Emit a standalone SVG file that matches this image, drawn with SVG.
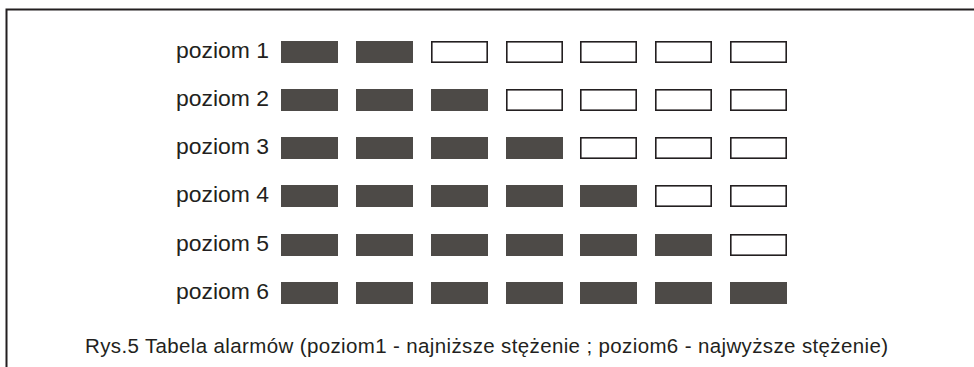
<svg xmlns="http://www.w3.org/2000/svg" width="974" height="367" viewBox="0 0 974 367">
<style>
.f{fill:#4d4a47}
.e{fill:#fff;stroke:#231f20;stroke-width:1.6}
.t{font-family:"Liberation Sans",Arial,sans-serif;font-size:20.5px;fill:#231f20}
.l{font-size:22px}
</style>
<rect width="974" height="367" fill="#fff"/>
<path d="M6.5,367 V9.5 H974" fill="none" stroke="#231f20" stroke-width="2"/>
<g id="row1">
<text class="t l" x="176" y="58" textLength="93" lengthAdjust="spacingAndGlyphs">poziom 1</text>
<rect class="f" x="281" y="41" width="57" height="22"/>
<rect class="f" x="356" y="41" width="57" height="22"/>
<rect class="e" x="431.8" y="41.8" width="55.4" height="20.4"/>
<rect class="e" x="506.8" y="41.8" width="55.4" height="20.4"/>
<rect class="e" x="580.8" y="41.8" width="55.4" height="20.4"/>
<rect class="e" x="655.8" y="41.8" width="55.4" height="20.4"/>
<rect class="e" x="730.8" y="41.8" width="55.4" height="20.4"/>
</g>
<g id="row2">
<text class="t l" x="176" y="106" textLength="93" lengthAdjust="spacingAndGlyphs">poziom 2</text>
<rect class="f" x="281" y="89" width="57" height="22"/>
<rect class="f" x="356" y="89" width="57" height="22"/>
<rect class="f" x="431" y="89" width="57" height="22"/>
<rect class="e" x="506.8" y="89.8" width="55.4" height="20.4"/>
<rect class="e" x="580.8" y="89.8" width="55.4" height="20.4"/>
<rect class="e" x="655.8" y="89.8" width="55.4" height="20.4"/>
<rect class="e" x="730.8" y="89.8" width="55.4" height="20.4"/>
</g>
<g id="row3">
<text class="t l" x="176" y="154" textLength="93" lengthAdjust="spacingAndGlyphs">poziom 3</text>
<rect class="f" x="281" y="137" width="57" height="22"/>
<rect class="f" x="356" y="137" width="57" height="22"/>
<rect class="f" x="431" y="137" width="57" height="22"/>
<rect class="f" x="506" y="137" width="57" height="22"/>
<rect class="e" x="580.8" y="137.8" width="55.4" height="20.4"/>
<rect class="e" x="655.8" y="137.8" width="55.4" height="20.4"/>
<rect class="e" x="730.8" y="137.8" width="55.4" height="20.4"/>
</g>
<g id="row4">
<text class="t l" x="176" y="202" textLength="93" lengthAdjust="spacingAndGlyphs">poziom 4</text>
<rect class="f" x="281" y="185" width="57" height="22"/>
<rect class="f" x="356" y="185" width="57" height="22"/>
<rect class="f" x="431" y="185" width="57" height="22"/>
<rect class="f" x="506" y="185" width="57" height="22"/>
<rect class="f" x="580" y="185" width="57" height="22"/>
<rect class="e" x="655.8" y="185.8" width="55.4" height="20.4"/>
<rect class="e" x="730.8" y="185.8" width="55.4" height="20.4"/>
</g>
<g id="row5">
<text class="t l" x="176" y="251" textLength="93" lengthAdjust="spacingAndGlyphs">poziom 5</text>
<rect class="f" x="281" y="234" width="57" height="22"/>
<rect class="f" x="356" y="234" width="57" height="22"/>
<rect class="f" x="431" y="234" width="57" height="22"/>
<rect class="f" x="506" y="234" width="57" height="22"/>
<rect class="f" x="580" y="234" width="57" height="22"/>
<rect class="f" x="655" y="234" width="57" height="22"/>
<rect class="e" x="730.8" y="234.8" width="55.4" height="20.4"/>
</g>
<g id="row6">
<text class="t l" x="176" y="299" textLength="93" lengthAdjust="spacingAndGlyphs">poziom 6</text>
<rect class="f" x="281" y="282" width="57" height="22"/>
<rect class="f" x="356" y="282" width="57" height="22"/>
<rect class="f" x="431" y="282" width="57" height="22"/>
<rect class="f" x="506" y="282" width="57" height="22"/>
<rect class="f" x="580" y="282" width="57" height="22"/>
<rect class="f" x="655" y="282" width="57" height="22"/>
<rect class="f" x="730" y="282" width="57" height="22"/>
</g>
<g id="connectors"></g>
<text id="caption" class="t" x="85" y="353" textLength="803">Rys.5 Tabela alarmów (poziom1 - najniższe stężenie ; poziom6 - najwyższe stężenie)</text>
</svg>
